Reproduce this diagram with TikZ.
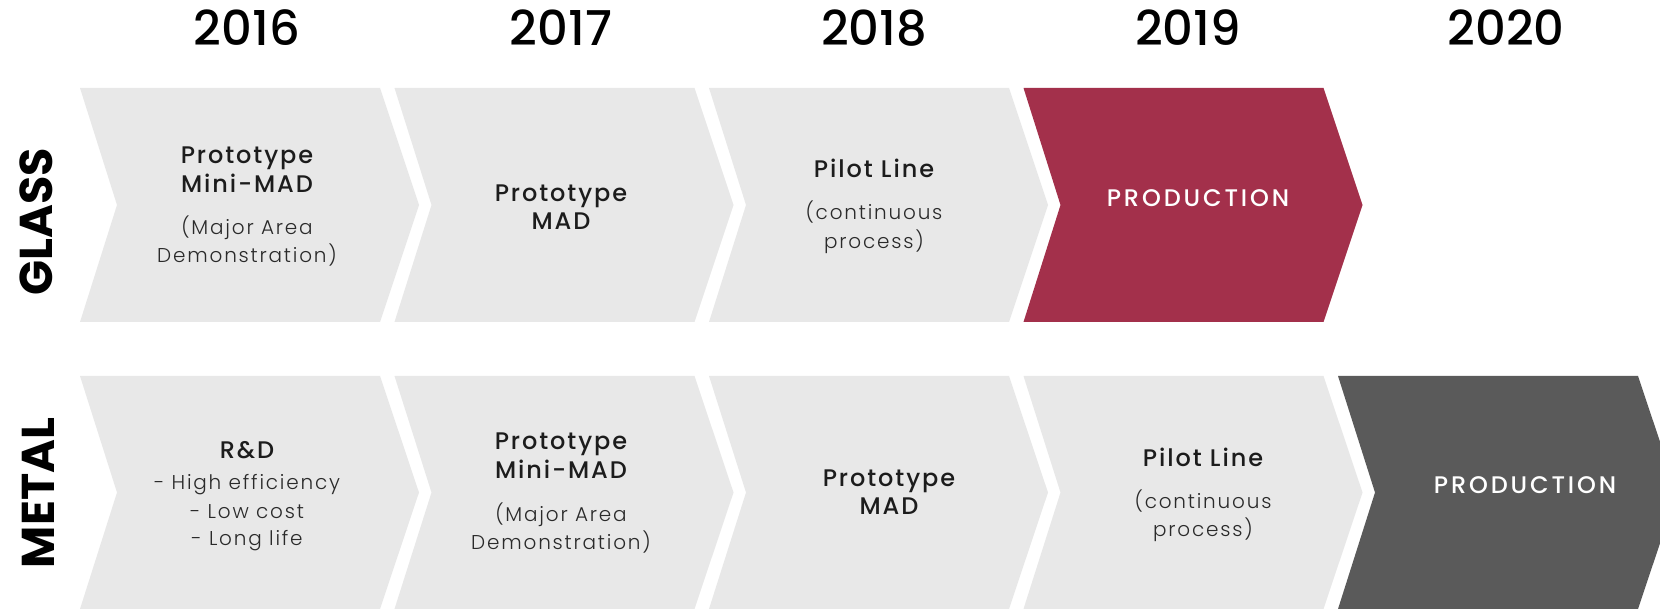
\documentclass[tikz,border=0pt]{standalone}
\usepackage{fontspec}
\setmainfont{Poppins}
\newfontfamily\medfont{Poppins Medium}
\newfontfamily\titlefont{Poppins Medium}[LetterSpace=8]
\newfontfamily\lightfont{Poppins Light}[LetterSpace=9]
\newfontfamily\prodfont{Poppins Medium}[LetterSpace=12]
\newfontfamily\heavyfont{Poppins Bold}
\definecolor{chgray}{HTML}{E8E8E8}
\definecolor{chred}{HTML}{A3304B}
\definecolor{chdark}{HTML}{5A5A5A}
\definecolor{txt}{HTML}{1C1C1C}
\definecolor{subtxt}{HTML}{2A2A2A}
\newcommand\chevronpath[4]{%
  \fill[#4] (#1,#2) -- ({#1+300},#2) -- ({#1+339},{(#2+#3)/2}) -- ({#1+300},#3)
    -- (#1,#3) -- ({#1+37},{(#2+#3)/2}) -- cycle;}
\tikzset{
  title/.style={anchor=mid, inner sep=0pt, text=txt, font=\titlefont\fontsize{24}{28}\selectfont},
  sub/.style={anchor=mid, inner sep=0pt, text=subtxt, font=\lightfont\fontsize{20}{24}\selectfont},
  year/.style={anchor=mid, inner sep=0pt, text=black, font=\medfont\fontsize{48}{54}\selectfont},
  rowlabel/.style={anchor=center, inner sep=0pt, text=black, rotate=90, font=\heavyfont\fontsize{46}{52}\selectfont},
  prod/.style={anchor=mid, inner sep=0pt, text=white, font=\prodfont\fontsize{24}{28}\selectfont},
}
\begin{document}
\begin{tikzpicture}[x=1pt,y=-1pt]
\useasboundingbox (0,0) rectangle (1660,609);
\fill[white] (0,0) rectangle (1660,609);
% glass row
\chevronpath{80}{88}{322}{chgray}
\chevronpath{394.5}{88}{322}{chgray}
\chevronpath{709}{88}{322}{chgray}
\chevronpath{1023.5}{88}{322}{chred}
% metal row
\chevronpath{80}{376}{609}{chgray}
\chevronpath{394.5}{376}{609}{chgray}
\chevronpath{709}{376}{609}{chgray}
\chevronpath{1023.5}{376}{609}{chgray}
\chevronpath{1338}{376}{609}{chdark}
% years
\node[year] (y16) at (247,43) {2016};
\node[year] (y17) at (561,43) {2017};
\node[year] (y18) at (874,43) {2018};
\node[year] (y19) at (1188,43) {2019};
\node[year] (y20) at (1506,43) {2020};
% row labels
\node[rowlabel] (glass) at (36,222) {GLASS};
\node[rowlabel] (metal) at (38,493) {METAL};
% glass texts
\node[title] (g1a) at (247,161) {Prototype};
\node[title] (g1b) at (247,190) {Mini-MAD};
\node[sub] (g1c) at (247,232) {(Major Area};
\node[sub] (g1d) at (247,260) {Demonstration)};
\node[title] (g2a) at (561,199) {Prototype};
\node[title] (g2b) at (561,227) {MAD};
\node[title] (g3a) at (874,175) {Pilot Line};
\node[sub] (g3b) at (874,217) {(continuous};
\node[sub] (g3c) at (874,246) {process)};
\node[prod] (g4) at (1198,204) {PRODUCTION};
% metal texts
\node[title] (m1a) at (247,456) {R\&D};
\node[sub] (m1b) at (247,487) {- High efficiency};
\node[sub] (m1c) at (247,516) {- Low cost};
\node[sub] (m1d) at (247,543) {- Long life};
\node[title] (m2a) at (561,447) {Prototype};
\node[title] (m2b) at (561,476) {Mini-MAD};
\node[sub] (m2c) at (561,519) {(Major Area};
\node[sub] (m2d) at (561,547) {Demonstration)};
\node[title] (m3a) at (889,484) {Prototype};
\node[title] (m3b) at (889,512) {MAD};
\node[title] (m4a) at (1203,464) {Pilot Line};
\node[sub] (m4b) at (1203,506) {(continuous};
\node[sub] (m4c) at (1203,534) {process)};
\node[prod] (m5) at (1525,491) {PRODUCTION};
\end{tikzpicture}
\end{document}
